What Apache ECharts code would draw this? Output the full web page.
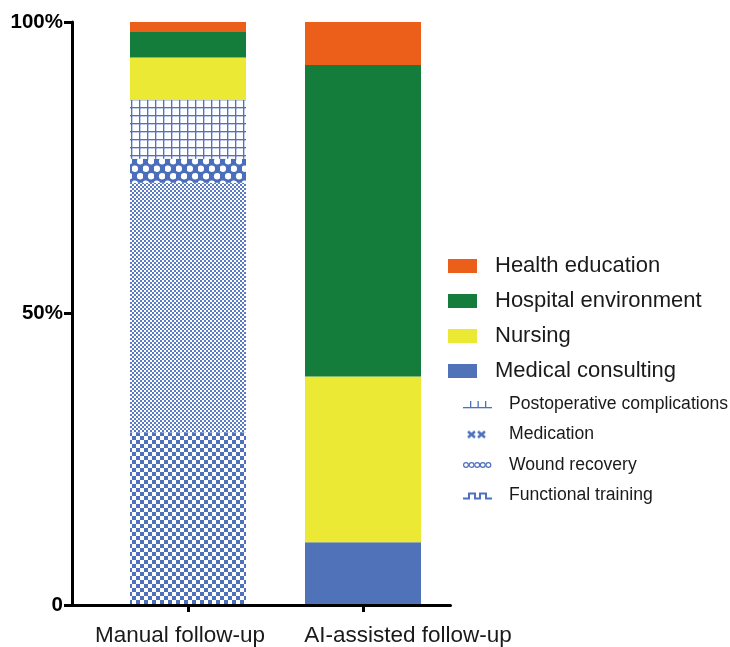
<!DOCTYPE html>
<html>
<head>
<meta charset="utf-8">
<script src="https://cdn.jsdelivr.net/npm/echarts@6/dist/echarts.min.js"></script>
<style>
html,body{margin:0;padding:0;background:#fff;}
#chart{width:730px;height:647px;}
</style>
</head>
<body>
<div id="chart"></div>
<script>
// ---- data ----
const categories = ['Manual follow-up', 'AI-assisted follow-up'];
const functionalTraining = [29.5, null];
const woundRecovery = [42.9, null];
const medication = [4.1, null];
const postoperativeComplications = [10.1, null];
const medicalConsulting = [null, 10.6];
const nursing = [7.3, 28.5];
const hospitalEnvironment = [4.4, 53.5];
const healthEducation = [1.7, 7.4];
const yTicks = [0, 50, 100];

// ---- styles ----
const BLUE = '#5072b8';
const PBLUE = '#4e71bd';
const ORANGE = '#ec5f1b';
const GREEN = '#147d3b';
const YELLOW = '#ece935';
const FONT = 'Liberation Sans, Arial, sans-serif';

function makeCanvas(w, h, draw) {
  const c = document.createElement('canvas');
  c.width = w; c.height = h;
  const g = c.getContext('2d');
  draw(g, w, h);
  return c;
}
const gridPat = makeCanvas(8, 8, (g) => {
  g.fillStyle = '#fff'; g.fillRect(0, 0, 8, 8);
  g.fillStyle = 'rgba(79,114,189,0.35)';
  g.fillRect(4, 0, 1, 8);
  g.fillRect(0, 4, 8, 1);
  g.fillStyle = '#4f72bd';
  g.fillRect(3, 0, 1, 8);
  g.fillRect(0, 3, 8, 1);
});
const latticePat = makeCanvas(11, 15, (g) => {
  g.fillStyle = '#4a6ebb'; g.fillRect(0, 0, 11, 15);
  g.fillStyle = '#fff';
  const holes = [[2.75, 3.75], [8.25, 11.25]];
  holes.forEach(([x, y]) => {
    g.beginPath(); g.ellipse(x, y, 3.3, 3.2, 0, 0, Math.PI * 2); g.fill();
  });
});
const fineCheck = makeCanvas(4, 4, (g) => {
  g.fillStyle = '#fff'; g.fillRect(0, 0, 4, 4);
  g.fillStyle = '#5b7cc4';
  g.fillRect(0, 0, 2, 2); g.fillRect(2, 2, 2, 2);
});
const coarseCheck = makeCanvas(8, 8, (g) => {
  g.fillStyle = '#fff'; g.fillRect(0, 0, 8, 8);
  g.fillStyle = PBLUE;
  g.fillRect(0, 0, 4, 4); g.fillRect(4, 4, 4, 4);
});

// legend icons
function iconURL(draw) {
  return 'image://' + makeCanvas(29, 10, draw).toDataURL();
}
const iconPostop = iconURL((g) => {
  g.fillStyle = PBLUE;
  g.fillRect(0, 8, 29, 1.3);
  [7, 14.5, 22].forEach(x => g.fillRect(x, 2, 1.3, 6));
});
const iconMed = iconURL((g) => {
  g.strokeStyle = PBLUE; g.lineWidth = 2.6;
  [[5, 12], [15, 22]].forEach(([a, b]) => {
    g.beginPath(); g.moveTo(a, 2); g.lineTo(b, 8); g.moveTo(b, 2); g.lineTo(a, 8); g.stroke();
  });
});
const iconWound = iconURL((g) => {
  g.strokeStyle = PBLUE; g.lineWidth = 1.2;
  for (let i = 0; i < 5; i++) {
    g.beginPath(); g.arc(3 + i * 5.6, 5, 2.4, 0, Math.PI * 2); g.stroke();
  }
});
const iconFunc = iconURL((g) => {
  g.strokeStyle = PBLUE; g.lineWidth = 2;
  g.beginPath();
  g.moveTo(0, 8); g.lineTo(6, 8); g.lineTo(6, 3); g.lineTo(12, 3); g.lineTo(12, 8);
  g.lineTo(17, 8); g.lineTo(17, 3); g.lineTo(23, 3); g.lineTo(23, 8); g.lineTo(29, 8);
  g.stroke();
});

function barSeries(name, arr, color) {
  return {
    name, type: 'bar', stack: 'total', barWidth: 116,
    xAxisIndex: 0, yAxisIndex: 0,
    data: arr.map(v => v == null ? '-' : v),
    itemStyle: { color },
    emphasis: { disabled: true }
  };
}

const labelShift = [[0, 16, 0, 0], [0, 0, 0, 90]];

const chart = echarts.init(document.getElementById('chart'));
chart.setOption({
  animation: false,
  backgroundColor: '#fff',
  grid: [
    { left: 100.5, top: 22, right: 279.5, bottom: 42, containLabel: false },
    { left: 72, top: 22, right: 279.5, bottom: 42, containLabel: false }
  ],
  xAxis: [
    {
      gridIndex: 0, type: 'category',
      data: categories.map((c, i) => ({ value: c, textStyle: { padding: labelShift[i] } })),
      axisLine: { show: false },
      axisTick: { show: true, interval: 0, alignWithLabel: true, length: 8, lineStyle: { color: '#000', width: 3 } },
      axisLabel: { interval: 0, hideOverlap: false, margin: 20, color: '#1a1a1a', fontSize: 22.5, fontFamily: FONT }
    },
    {
      gridIndex: 1, type: 'value', min: 0, max: 1,
      splitLine: { show: false },
      axisLine: { show: true, onZero: false, lineStyle: { color: '#000', width: 3 } },
      axisTick: { show: false }, axisLabel: { show: false }
    }
  ],
  yAxis: [
    { gridIndex: 0, type: 'value', min: 0, max: 100, show: false },
    {
      gridIndex: 1, type: 'value', min: 0, max: 100, interval: 50,
      splitLine: { show: false },
      axisLine: { show: true, lineStyle: { color: '#000', width: 3 } },
      axisTick: { show: true, length: 8, lineStyle: { color: '#000', width: 3 } },
      axisLabel: {
        margin: 9,
        formatter: (v) => yTicks.includes(v) ? (v === 0 ? '0' : v + '%') : '',
        color: '#000', fontSize: 20.5, fontWeight: 'bold', fontFamily: FONT
      }
    }
  ],
  legend: [
    {
      orient: 'vertical', left: 448, top: 255, padding: 0, itemWidth: 29, itemHeight: 14, itemGap: 13,
      icon: 'rect', selectedMode: false,
      textStyle: { fontSize: 22, lineHeight: 21, color: '#1a1a1a', padding: [0, 0, 0, 13], fontFamily: FONT },
      data: ['Health education', 'Hospital environment', 'Nursing', 'Medical consulting']
    },
    {
      orient: 'vertical', left: 463, top: 395, padding: 0, itemWidth: 29, itemHeight: 10, itemGap: 12.5,
      selectedMode: false,
      textStyle: { fontSize: 17.6, lineHeight: 17, color: '#1a1a1a', padding: [0, 0, 0, 12], fontFamily: FONT },
      data: [
        { name: 'Postoperative complications', icon: iconPostop },
        { name: 'Medication', icon: iconMed },
        { name: 'Wound recovery', icon: iconWound },
        { name: 'Functional training', icon: iconFunc }
      ]
    }
  ],
  series: [
    barSeries('Medical consulting', medicalConsulting, BLUE),
    barSeries('Functional training', functionalTraining, { image: coarseCheck, repeat: 'repeat' }),
    barSeries('Wound recovery', woundRecovery, { image: fineCheck, repeat: 'repeat' }),
    barSeries('Medication', medication, { image: latticePat, repeat: 'repeat' }),
    barSeries('Postoperative complications', postoperativeComplications, { image: gridPat, repeat: 'repeat' }),
    barSeries('Nursing', nursing, YELLOW),
    barSeries('Hospital environment', hospitalEnvironment, GREEN),
    barSeries('Health education', healthEducation, ORANGE)
  ]
});
</script>
</body>
</html>
